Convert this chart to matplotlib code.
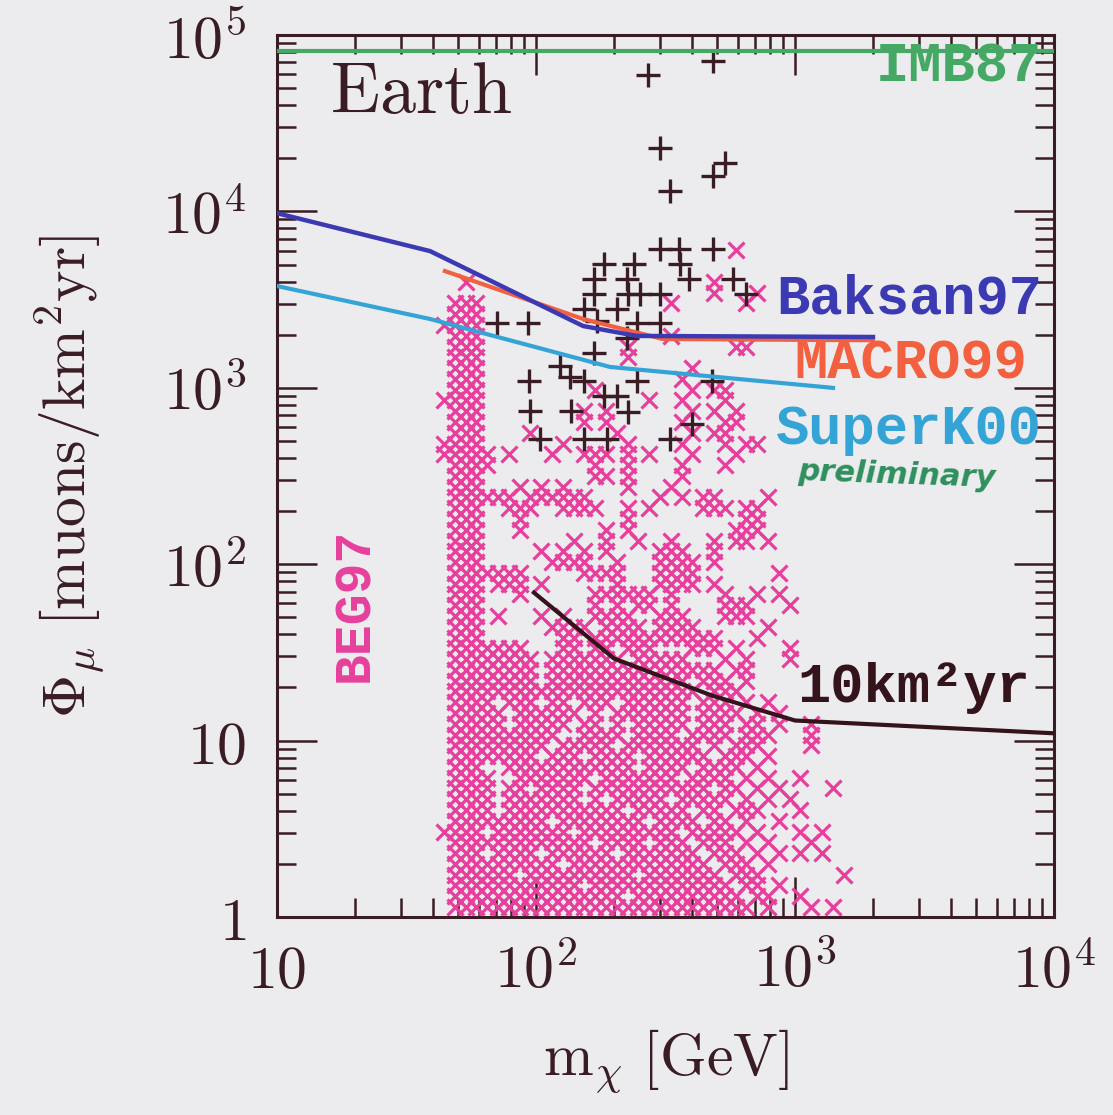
import matplotlib
matplotlib.use("Agg")
import matplotlib.pyplot as plt
from matplotlib.ticker import LogLocator, NullFormatter, FixedLocator, FixedFormatter

plt.rcParams['mathtext.fontset'] = 'cm'
plt.rcParams['font.family'] = ['DejaVu Serif']

# ---------------- data ----------------
# BEG97 model scan: lattice of mass / flux values, mask rows (top row = highest flux)
mass_grid = [44.2, 48.6, 53.5, 58.9, 64.8, 71.4, 78.6, 86.5, 95.2, 104.8,
             115.3, 127.0, 139.8, 153.9, 169.4, 186.4, 205.3, 225.9, 248.7, 273.8,
             301.3, 331.7, 365.1, 401.9, 442.4, 486.9, 536.0, 590.0, 649.4, 714.9,
             787.0, 866.2, 953.6, 1050, 1155, 1272, 1400, 1541, 1696]
flux_grid = [1.139, 1.311, 1.51, 1.738, 2.0, 2.302, 2.65, 3.05, 3.512, 4.042,
             4.653, 5.356, 6.165, 7.097, 8.166, 9.40, 10.82, 12.46, 14.34, 16.5,
             19.0, 21.87, 25.17, 28.97, 33.34, 38.38, 44.18, 50.85, 58.53, 67.37,
             77.55, 89.3, 102.8, 118.3, 136.1, 156.7, 180.4, 207.6, 239.0, 275.1,
             316.7, 364.5, 419.6, 483.0, 555.9, 640.0, 736.6, 847.9, 976.0, 1123,
             1293, 1488, 1713, 1972, 2270, 2613, 3008, 3462, 3985, 4587,
             5280, 6077, 6996]
beg97_mask = [
    ".........." ".........." ".........." ".........",  # 62
    ".........." ".........." ".......x.." ".........",  # 61
    ".........." ".........." ".........." ".........",  # 60
    ".........." ".........." ".........." ".........",  # 59
    "..x......." ".........." ".....x...." ".........",  # 58
    ".........." ".........." ".....x...x" ".........",  # 57
    ".xxx......" ".........." ".x......x." ".........",  # 56
    ".xxx......" ".........." ".........." ".........",  # 55
    "xxxx......" ".........." ".........." ".........",  # 54
    ".xxx......" ".........." ".x........" ".........",  # 53
    ".xxx......" ".......x.." ".......xx." ".........",  # 52
    ".xxx......" ".......x.." ".........." ".........",  # 51
    ".xxx......" ".........." "...x......" ".........",  # 50
    ".xxx......" ".........." "..x......." ".........",  # 49
    ".xxx......" "....x....." "...x.xx..." ".........",  # 48
    "xxxx......" ".........x" "..x...x..." ".........",  # 47
    ".xxx......" "...x.x...." "...x.x.x.." ".........",  # 46
    ".xxx......" "...x.x...." "..x...xx.." ".........",  # 45
    ".xxx....x." "......x..." "...x.xx..." ".........",  # 44
    "xxxx......" ".x.....x.." "..x...x.xx" ".........",  # 43
    "xxxxx.x..." "x..xxx.x.x" "...x...x.." ".........",  # 42
    ".xxxx....." "....x..x.." "..x...x..." ".........",  # 41
    ".xxx......" "....xx.x.." "..x......." ".........",  # 40
    ".xxx...x.x" ".x.....x.." ".x........" ".........",  # 39
    ".xxxxxx.xx" "xxxx......" "x.x.xx...." "x........",  # 38
    ".xxx..xxx." ".xxxx..x.x" "....xxx.xx" ".........",  # 37
    ".xxx...x.." ".......x.." "........xx" ".........",  # 36
    ".xxx...x.." ".....x.x.." ".......xxx" ".........",  # 35
    ".xxx......" "..x..x..x." ".x...x.xx." "x........",  # 34
    ".xxx.....x" ".x.x.x...." "xxx..x...." ".........",  # 33
    ".xxx......" "xxxx..x..." "xxxx.x...." ".........",  # 32
    ".xxxxxxx.." "...xxxx..." "xxxx......" ".x.......",  # 31
    ".xxx.xxx.x" "......x..." "xxxx.x...." ".........",  # 30
    ".xxx...x.." "....xxxxxx" ".x....x..x" ".x.......",  # 29
    ".xxx......" "....x.x.xx" ".x....xxx." "..x......",  # 28
    ".xxx.x...x" ".x..xxxx.." "xxx...xxx." ".........",  # 27
    ".xxx......" "xxxx.xxxx." "xxxx......" "x........",  # 26
    ".xxx......" ".xx.xxxxxx" "xxxxxx...x" ".........",  # 25
    ".xxxxxxx.." ".xx.xx.xxx" "...xxx.x.." "..x......",  # 24
    ".xxxxxxxx." "xxxxxxx.xx" "xxx...x.x." "..x......",  # 23
    ".xxxxxxxx." "xxxxxxxxxx" "xxxxxx.xx." ".........",  # 22
    ".xxxxxxxx." "xxxxxxxxxx" "xxx.xxx.x." ".........",  # 21
    ".xxxxxxxxx" "xxxxxxxxxx" "xxxx.xxx.." ".........",  # 20
    ".xxxx.xxx." "xx.xxx.xxx" "xxx.xxx.x." "x........",  # 19
    ".xxxxx.xxx" "xxx.x.xxxx" "xxx.xxxx.x" ".x.......",  # 18
    ".xxxxx.xxx" "xx.xx.x.xx" "xxx.xxx.xx" ".x..x....",  # 17
    ".xxxxxxxxx" "x..xxxx.xx" "xx.xxxx.xx" "x...x....",  # 16
    ".xxxxxxxxx" ".xxxxx.xxx" "xxxx.x.xxx" "....x....",  # 15
    ".xxxxxxxx." "xxx.xxxx.x" "xxxxx.xxx." "x........",  # 14
    ".xxx..xxxx" "xxxxxxxx.x" "xxx.xxxx.x" ".........",  # 13
    ".xxxx..xxx" "xxxx.xxxxx" "xx.xxxx.x." "x..x.....",  # 12
    ".xxxx.xx.x" "xxx.xxxxxx" "xxxxx.xx.x" ".x....x..",  # 11
    ".xxxx.xxxx" "xxx.x.xxxx" "x.xxxxx.x." "x.x......",  # 10
    ".xxxx.xxxx" "xxxxxxx.xx" "xxx.xx.xxx" "...x.....",  # 9
    ".xxxxxxxxx" ".xxxxxxxx." "xxxx.xx.x." ".x.......",  # 8
    "xxxx.xxxxx" "xx.xxxxxxx" "xx.xxxxx.x" "...x.x...",  # 7
    ".xxxxxxxxx" "xxxx.xxxx." "xxx.xxx.x." "x...x....",  # 6
    ".xxx.xxxx." "xxxxxx.xxx" "xxxx.xxx.x" ".x.x.x...",  # 5
    ".xxxxxxxxx" "x.xxxxxxxx" "xxxxx.xxx." "x........",  # 4
    ".xxxxxx.xx" "xxxxxxxx.x" "xxxxxx.xxx" ".......x.",  # 3
    ".xxxxxxxxx" "xxx.xxxxxx" "xxxxxxx.xx" ".x.......",  # 2
    ".xxxxxxxxx" "xxxxxxx.xx" "xxxxxxxx.x" "x..x.....",  # 1
    ".xxxxxxxxx" "xxxxxxxxxx" "xxxxxxxxx." "x...x.x..",  # 0
]

# models excluded (black +)
plus_mass = [270.6, 482, 301, 329, 482, 537, 301, 357, 482, 183, 239, 360, 167, 225,
             390, 576, 167, 226, 252, 301, 647, 153, 205, 70.7, 93, 172, 245, 301,
             225, 167, 124, 94, 135, 153, 245, 478, 183, 205, 95, 136, 226, 400,
             104, 153, 188, 329]
plus_flux = [59700, 70800, 22800, 13000, 15800, 18700, 6110, 6110, 6110, 5020, 5020,
             5020, 4130, 4130, 4130, 4130, 3400, 3400, 3400, 3400, 3400, 2800, 2800,
             2330, 2330, 2400, 2330, 2330, 1916, 1577, 1330, 1094, 1150, 1094, 1094,
             1094, 900, 900, 740, 740, 730, 625, 514, 514, 514, 514]

# limits
baksan_m = [10, 39, 152, 245, 2000]
baksan_f = [9770, 5955, 2240, 1968, 1941]
macro_m = [44.5, 152, 309, 2000]
macro_f = [4590, 2455, 1890, 1860]
superk_m = [10, 39, 193, 1402]
superk_f = [3775, 2455, 1313, 999]
km10_m = [98.2, 200, 478, 1000, 10000]
km10_f = [69, 29.2, 18.0, 13.0, 11.0]
imb_m = [10, 10000]
imb_f = [80700, 80700]

xticks = [10, 100, 1000, 10000]
xticklabels = [r'$10$', r'$10^2$', r'$10^3$', r'$10^4$']
yticks = [1, 10, 100, 1000, 1e4, 1e5]
yticklabels = [r'$1$', r'$10$', r'$10^2$', r'$10^3$', r'$10^4$', r'$10^5$']

# ---------------- styling ----------------
BG = '#ececef'
DARK = '#3a1d24'
PINK = '#e6409c'
BLUE = '#3b3ab2'
ORANGE = '#f2603f'
CYAN = '#34a4d6'
GREEN = '#46a865'

fig = plt.figure(figsize=(11.13, 11.15), dpi=100, facecolor=BG)
W, H = 1113, 1115
ax = fig.add_axes([277 / W, 1 - 917 / H, 777 / W, 882 / H], facecolor=BG)
ax.set_xscale('log')
ax.set_yscale('log')
ax.set_xlim(10, 1e4)
ax.set_ylim(1, 1e5)

# BEG97 scatter
bx, by = [], []
nrows = len(beg97_mask)
for r, row in enumerate(beg97_mask):
    j = nrows - 1 - r
    for i, ch in enumerate(row):
        if ch == 'x':
            bx.append(mass_grid[i])
            by.append(flux_grid[j])
ax.plot(bx, by, linestyle='none', marker='x', markersize=11, mew=2.3,
        color=PINK, zorder=2)

ax.plot(plus_mass, plus_flux, linestyle='none', marker='+', markersize=17, mew=2.4,
        color=DARK, zorder=3)

ax.plot(imb_m, imb_f, color=GREEN, lw=3, zorder=4)
ax.plot(macro_m, macro_f, color=ORANGE, lw=3, zorder=4)
ax.plot(baksan_m, baksan_f, color=BLUE, lw=3.2, zorder=5)
ax.plot(superk_m, superk_f, color=CYAN, lw=3, zorder=4)
ax.plot(km10_m, km10_f, color='#34141a', lw=3, zorder=4)

# ticks
ax.xaxis.set_major_locator(FixedLocator(xticks))
ax.xaxis.set_major_formatter(FixedFormatter(xticklabels))
ax.yaxis.set_major_locator(FixedLocator(yticks))
ax.yaxis.set_major_formatter(FixedFormatter(yticklabels))
ax.xaxis.set_minor_locator(LogLocator(base=10, subs=range(2, 10), numticks=20))
ax.yaxis.set_minor_locator(LogLocator(base=10, subs=range(2, 10), numticks=20))
ax.xaxis.set_minor_formatter(NullFormatter())
ax.yaxis.set_minor_formatter(NullFormatter())
ax.tick_params(which='both', direction='in', top=True, right=True, color=DARK,
               width=1.8, labelcolor=DARK)
ax.tick_params(which='major', length=29, labelsize=43)
ax.tick_params(which='minor', length=14)
ax.tick_params(axis='x', which='major', pad=18)
ax.tick_params(axis='y', which='major', pad=22)
for s in ax.spines.values():
    s.set_color(DARK)
    s.set_linewidth(2.2)

ax.set_xlabel(r'$\mathrm{m}_\chi\ [\mathrm{GeV}]$', fontsize=43, color=DARK, labelpad=20)
ax.set_ylabel(r'$\Phi_\mu\ [\mathrm{muons/km^2yr}]$', fontsize=43, color=DARK, labelpad=40)

# annotations
ax.text(0.068, 0.912, r'$\mathrm{Earth}$', transform=ax.transAxes, fontsize=52,
        color=DARK, ha='left', va='baseline')
mono = 'Liberation Mono'
ax.text(0.985, 0.963, 'IMB87', transform=ax.transAxes, fontsize=40, family=mono,
        weight='bold', color=GREEN, ha='right', va='center', zorder=6)
ax.text(0.985, 0.700, 'Baksan97', transform=ax.transAxes, fontsize=40, family=mono,
        weight='bold', color=BLUE, ha='right', va='center', zorder=6)
ax.text(0.966, 0.626, 'MACRO99', transform=ax.transAxes, fontsize=40, family=mono,
        weight='bold', color=ORANGE, ha='right', va='center', zorder=6)
ax.text(0.985, 0.552, 'SuperK00', transform=ax.transAxes, fontsize=40, family=mono,
        weight='bold', color=CYAN, ha='right', va='center', zorder=6)
ax.text(0.798, 0.501, 'preliminary', transform=ax.transAxes, fontsize=22,
        family='DejaVu Sans', style='italic', weight='bold', color='#2e8f5c',
        ha='center', va='center', rotation=-2, zorder=6)
ax.text(0.100, 0.354, 'BEG97', transform=ax.transAxes, fontsize=37, family=mono,
        weight='bold', color=PINK, ha='center', va='center', rotation=90, zorder=6)
ax.text(0.969, 0.260, '10km\u00b2yr', transform=ax.transAxes, fontsize=40, family=mono,
        weight='bold', color='#34141a', ha='right', va='center', zorder=6)

fig.savefig('out.png', dpi=100, facecolor=BG)
